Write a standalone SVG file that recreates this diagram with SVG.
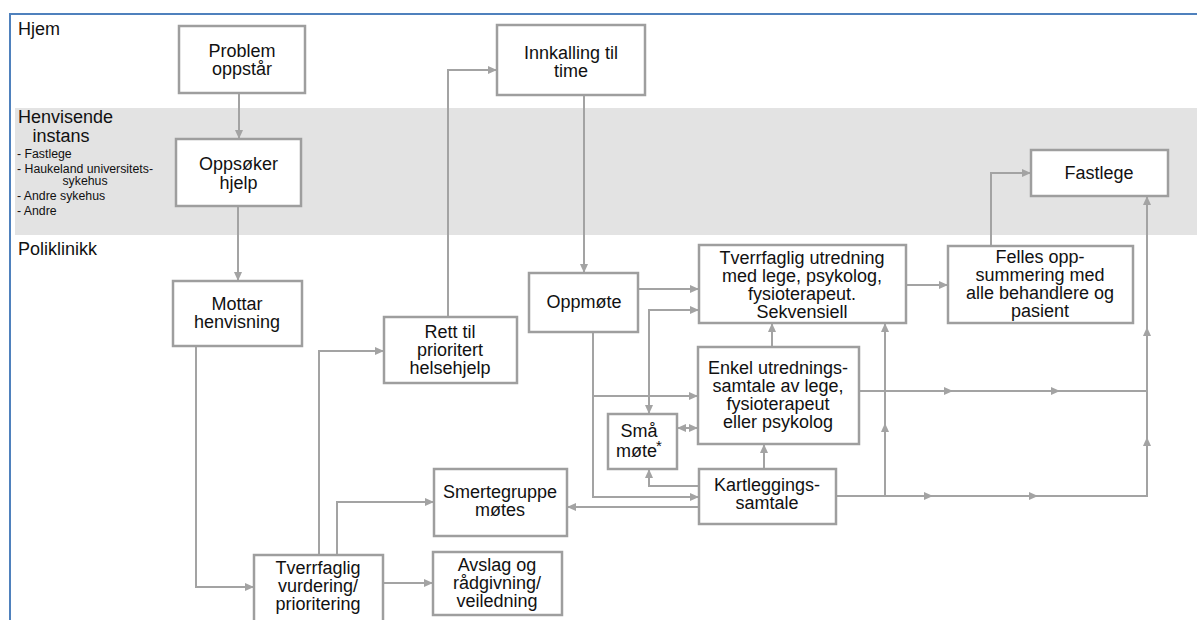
<svg xmlns="http://www.w3.org/2000/svg" width="1197" height="620" viewBox="0 0 1197 620">
<defs>
<marker id="ah" markerUnits="userSpaceOnUse" markerWidth="9" markerHeight="8" refX="9" refY="4" orient="auto-start-reverse">
<path d="M0,0 L9,4 L0,8 z" fill="#a3a3a3"/>
</marker>
<style>
.box{fill:#ffffff;stroke:#9e9e9e;stroke-width:2.5}
.t{font-family:"Liberation Sans",Arial,sans-serif;font-size:18px;fill:#111;text-anchor:middle}
.lane{font-family:"Liberation Sans",Arial,sans-serif;font-size:18px;fill:#111}
.small{font-family:"Liberation Sans",Arial,sans-serif;font-size:12.3px;fill:#111}
.c{fill:none;stroke:#a3a3a3;stroke-width:2}
.a{marker-end:url(#ah)}
.b{marker-start:url(#ah);marker-end:url(#ah)}
</style>
</defs>
<rect x="0" y="0" width="1197" height="620" fill="#ffffff"/>
<rect x="15" y="108" width="1182" height="127" fill="#e3e3e3"/>
<line x1="9" y1="14" x2="1197" y2="14" stroke="#4f81bd" stroke-width="2"/>
<line x1="10" y1="13" x2="10" y2="620" stroke="#4f81bd" stroke-width="2"/>
<g id="lanes">
<text class="lane" x="18" y="35">Hjem</text>
<text class="lane" x="18" y="123">Henvisende</text>
<text class="lane" x="61" y="142" text-anchor="middle">instans</text>
<text class="small" x="17" y="158">- Fastlege</text>
<text class="small" x="17" y="173">- Haukeland universitets-</text>
<text class="small" x="85" y="185" text-anchor="middle">sykehus</text>
<text class="small" x="17" y="200">- Andre sykehus</text>
<text class="small" x="17" y="215">- Andre</text>
<text class="lane" x="18" y="255">Poliklinikk</text>
</g>
<g id="connectors">
<path class="c a" d="M239 93 V139"/>
<path class="c a" d="M238 206 V281"/>
<path class="c a" d="M196 346 V587 H254"/>
<path class="c a" d="M319 555 V351 H384"/>
<path class="c a" d="M337 555 V502 H434"/>
<path class="c a" d="M383 583 H433"/>
<path class="c a" d="M448 317 V70 H497"/>
<path class="c a" d="M584 95 V273"/>
<path class="c a" d="M638 289 H699"/>
<path class="c a" d="M593 332 V497 H699"/>
<path class="c a" d="M593 396 H698"/>
<path class="c b" d="M649 414 V310 H699"/>
<path class="c b" d="M677 428 H698"/>
<path class="c a" d="M699 486 H649 V469"/>
<path class="c a" d="M764 469 V444"/>
<path class="c a" d="M772 347 V323"/>
<path class="c a" d="M699 507 H567"/>
<path class="c a" d="M906 285 H948"/>
<path class="c a" d="M991 246 V173 H1031"/>
<path class="c a" d="M859 391 H953"/>
<path class="c a" d="M953 391 H1060"/>
<path class="c" d="M1060 391 H1147"/>
<path class="c a" d="M836 496 H933"/>
<path class="c a" d="M933 496 H1038"/>
<path class="c" d="M1038 496 H1148"/>
<path class="c a" d="M1147 497 V437"/>
<path class="c a" d="M1147 437 V327"/>
<path class="c a" d="M1147 327 V196"/>
<path class="c a" d="M885 496 V423"/>
<path class="c a" d="M885 423 V323"/>
</g>
<g id="problem"><rect class="box" x="179" y="26" width="126" height="67"/><text class="t" x="242" y="57">Problem</text><text class="t" x="242" y="75">oppstår</text></g>
<g id="oppsoker"><rect class="box" x="176" y="139" width="125" height="67"/><text class="t" x="238.5" y="170">Oppsøker</text><text class="t" x="238.5" y="189">hjelp</text></g>
<g id="innkalling"><rect class="box" x="497" y="25" width="148" height="70"/><text class="t" x="571" y="59">Innkalling til</text><text class="t" x="571" y="77">time</text></g>
<g id="mottar"><rect class="box" x="173" y="281" width="129" height="65"/><text class="t" x="237" y="310">Mottar</text><text class="t" x="237" y="328">henvisning</text></g>
<g id="rett"><rect class="box" x="384" y="317" width="133" height="66"/><text class="t" x="450" y="338">Rett til</text><text class="t" x="450" y="356">prioritert</text><text class="t" x="450" y="374">helsehjelp</text></g>
<g id="oppmote"><rect class="box" x="529" y="273" width="109" height="59"/><text class="t" x="584" y="308">Oppmøte</text></g>
<g id="tverrfaglig-utredning"><rect class="box" x="699" y="245" width="207" height="78"/><text class="t" x="802" y="264">Tverrfaglig utredning</text><text class="t" x="802" y="282">med lege, psykolog,</text><text class="t" x="802" y="300">fysioterapeut.</text><text class="t" x="802" y="318">Sekvensiell</text></g>
<g id="felles"><rect class="box" x="948" y="246" width="185" height="77"/><text class="t" x="1040" y="263">Felles opp-</text><text class="t" x="1040" y="281">summering med</text><text class="t" x="1040" y="299">alle behandlere og</text><text class="t" x="1040" y="317">pasient</text></g>
<g id="fastlege"><rect class="box" x="1031" y="150" width="137" height="46"/><text class="t" x="1099" y="179">Fastlege</text></g>
<g id="enkel"><rect class="box" x="698" y="347" width="161" height="97"/><text class="t" x="778" y="374">Enkel utrednings-</text><text class="t" x="778" y="392">samtale av lege,</text><text class="t" x="778" y="410">fysioterapeut</text><text class="t" x="778" y="428">eller psykolog</text></g>
<g id="sma-mote"><rect class="box" x="608" y="414" width="69" height="55"/><text class="t" x="639" y="437">Små</text><text class="t" x="639" y="457">møte<tspan font-size="15" dx="-1" dy="-6">*</tspan></text></g>
<g id="kartlegging"><rect class="box" x="699" y="469" width="137" height="55"/><text class="t" x="767" y="491">Kartleggings-</text><text class="t" x="767" y="509">samtale</text></g>
<g id="smertegruppe"><rect class="box" x="434" y="469" width="133" height="67"/><text class="t" x="500" y="498">Smertegruppe</text><text class="t" x="500" y="516">møtes</text></g>
<g id="tverrfaglig-vurdering"><rect class="box" x="254" y="555" width="129" height="68"/><text class="t" x="318" y="574">Tverrfaglig</text><text class="t" x="318" y="592">vurdering/</text><text class="t" x="318" y="610">prioritering</text></g>
<g id="avslag"><rect class="box" x="433" y="552" width="129" height="63"/><text class="t" x="497" y="571">Avslag og</text><text class="t" x="497" y="589">rådgivning/</text><text class="t" x="497" y="607">veiledning</text></g>
</svg>
